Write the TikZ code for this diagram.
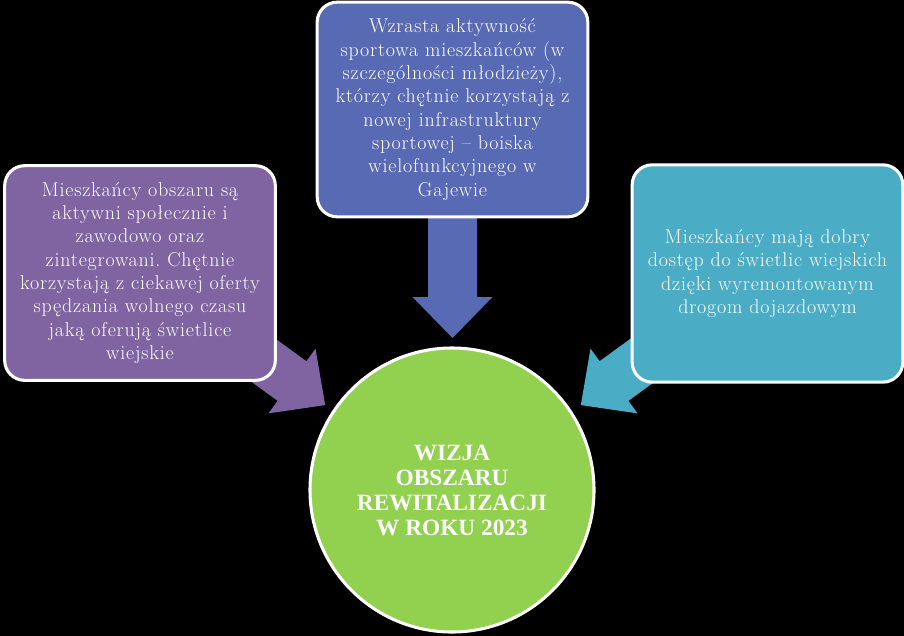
\documentclass[tikz,border=0pt]{standalone}
\usepackage{fontspec}
\newfontfamily\boldserif{Liberation Serif}
\newfontfamily\boxfont{Latin Modern Roman}[LetterSpace=4]
\definecolor{purp}{RGB}{128,100,162}
\definecolor{bluebox}{RGB}{89,106,181}
\definecolor{tealbox}{RGB}{75,172,198}
\definecolor{greenc}{RGB}{146,208,80}
\tikzset{
  infobox/.style={draw=white, line width=2.3pt, rounded corners=15pt,
    text=white, align=center, font=\boxfont\frenchspacing\fontsize{15}{17.5}\selectfont,
    minimum width=203pt, minimum height=161pt, inner sep=2pt},
  blockarrow/.pic={\fill (0,24.5) -- (0,40) -- (41,0) -- (0,-40) -- (0,-24.5)
     -- (-90,-24.5) -- (-90,24.5) -- cycle;}
}
\begin{document}
\begin{tikzpicture}[x=0.75pt,y=-0.75pt]
\fill[black] (0,0) rectangle (904,636);
\useasboundingbox (0,0) rectangle (904,636);
% block arrows
\pic[fill=purp, rotate=-36] at (292,381) {blockarrow};
\pic[fill=tealbox, rotate=216] at (614,381) {blockarrow};
\pic[fill=bluebox, rotate=-90] at (452.5,297) {blockarrow};
% boxes
\node[infobox, fill=purp] (left) at (140,273)
  {Mieszkańcy obszaru są\\aktywni społecznie i\\zawodowo oraz\\zintegrowani. Chętnie\\korzystają z ciekawej oferty\\spędzania wolnego czasu\\jaką oferują świetlice\\wiejskie};
\node[infobox, fill=bluebox, minimum height=161pt] (top) at (452.5,109.5)
  {Wzrasta aktywność\\sportowa mieszkańców (w\\szczególności młodzieży),\\którzy chętnie korzystają z\\nowej infrastruktury\\sportowej – boiska\\wielofunkcyjnego w\\Gajewie};
\node[infobox, fill=tealbox, minimum height=163pt] (right) at (767.5,273.5)
  {Mieszkańcy mają dobry\\dostęp do świetlic wiejskich\\dzięki wyremontowanym\\drogom dojazdowym};
\node[circle, draw=white, line width=2.3pt, fill=greenc, minimum size=213pt,
  text=white, align=center, font=\boldserif\bfseries\fontsize{17.5}{18.75}\selectfont] (vision) at (452,490)
  {WIZJA\\OBSZARU\\REWITALIZACJI\\W ROKU 2023};
\end{tikzpicture}
\end{document}
